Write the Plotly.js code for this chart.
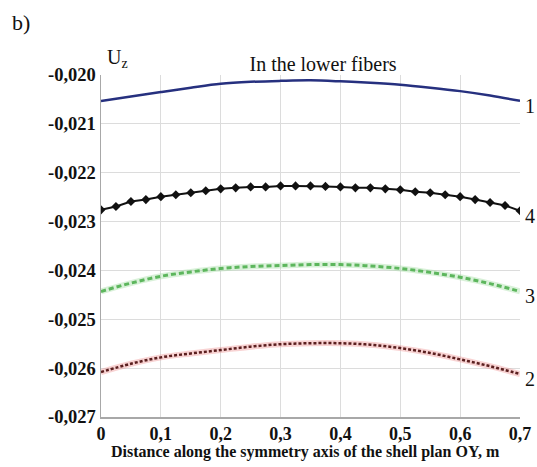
<!DOCTYPE html>
<html>
<head>
<meta charset="utf-8">
<script src="https://cdn.plot.ly/plotly-3.0.1.min.js"></script>
<style>html,body{margin:0;padding:0;background:#fff;}#chart{width:537px;height:467px;}</style>
</head>
<body>
<div id="chart"></div>
<script>
// Data
const xCoarse = [0,0.05,0.1,0.15,0.2,0.25,0.3,0.35,0.4,0.45,0.5,0.55,0.6,0.65,0.7];
const curve1 = [-0.02053,-0.02044,-0.02035,-0.02026,-0.02018,-0.02014,-0.02012,-0.02011,-0.02013,-0.02016,-0.02020,-0.02026,-0.02033,-0.02042,-0.02053];
const curve3 = [-0.02443,-0.02426,-0.02412,-0.02403,-0.02396,-0.02392,-0.02390,-0.02388,-0.02388,-0.02391,-0.02396,-0.02404,-0.02414,-0.02427,-0.02443];
const curve2 = [-0.02608,-0.02591,-0.02578,-0.02570,-0.02563,-0.02556,-0.02551,-0.02549,-0.02549,-0.02552,-0.02559,-0.02569,-0.02582,-0.02596,-0.02612];
const xFine = [0,0.025,0.05,0.075,0.1,0.125,0.15,0.175,0.2,0.225,0.25,0.275,0.3,0.325,0.35,0.375,0.4,0.425,0.45,0.475,0.5,0.525,0.55,0.575,0.6,0.625,0.65,0.675,0.7];
const curve4 = [-0.02276,-0.02269,-0.02259,-0.02255,-0.02249,-0.02245,-0.02241,-0.02237,-0.02233,-0.02231,-0.02229,-0.02229,-0.02227,-0.02227,-0.02227,-0.02228,-0.02229,-0.02231,-0.02231,-0.02233,-0.02235,-0.02239,-0.02241,-0.02245,-0.02249,-0.02255,-0.02261,-0.02267,-0.02278];
const curveLabels = ["1","4","3","2"];
const xTickVals = [0,0.1,0.2,0.3,0.4,0.5,0.6,0.7];
const xTickText = ["0","0,1","0,2","0,3","0,4","0,5","0,6","0,7"];
const yTickVals = [-0.020,-0.021,-0.022,-0.023,-0.024,-0.025,-0.026,-0.027];
const yTickText = ["-0,020","-0,021","-0,022","-0,023","-0,024","-0,025","-0,026","-0,027"];
const xTitle = 'Distance along the symmetry axis of the shell plan OY, m';

const serif = "Liberation Serif";

const traces = [
  {x:xCoarse, y:curve1, mode:'lines', line:{color:'#26307f', width:2.5, shape:'spline'}, hoverinfo:'skip'},
  {x:xFine, y:curve4, mode:'lines+markers', line:{color:'#111', width:2}, marker:{symbol:'diamond', size:7, color:'#111'}, hoverinfo:'skip'},
  {x:xCoarse, y:curve3, mode:'lines', line:{color:'rgba(160,220,160,0.4)', width:6, shape:'spline'}, hoverinfo:'skip'},
  {x:xCoarse, y:curve3, mode:'lines', line:{color:'#5db65d', width:3, dash:'5px,3px', shape:'spline'}, hoverinfo:'skip'},
  {x:xCoarse, y:curve2, mode:'lines', line:{color:'rgba(235,130,130,0.35)', width:6, shape:'spline'}, hoverinfo:'skip'},
  {x:xCoarse, y:curve2, mode:'lines', line:{color:'#5a1f1f', width:2.5, dash:'3px,2px', shape:'spline'}, hoverinfo:'skip'}
];

const ends = [curve1[curve1.length-1], curve4[curve4.length-1], curve3[curve3.length-1], curve2[curve2.length-1]];
const annotations = curveLabels.map((t,i)=>({
  x:0.7, y:ends[i], xref:'x', yref:'y', text:t, showarrow:false,
  xanchor:'left', yanchor:'middle', xshift:3, yshift:-5,
  font:{family:serif, size:20, color:'#111'}
}));
annotations.push({x:-0.217, y:1.196, xref:'paper', yref:'paper', xanchor:'left', yanchor:'top',
  text:'b)', showarrow:false, font:{family:serif, size:22, color:'#111'}});
annotations.push({x:0, y:1, xref:'paper', yref:'paper', xanchor:'left', yanchor:'bottom', yshift:2, xshift:4,
  text:'U<sub>z</sub>', showarrow:false, font:{family:serif, size:20, color:'#111'}});
annotations.push({x:0.489, y:0, xref:'paper', yref:'paper', xanchor:'center', yanchor:'top', yshift:-24,
  text:xTitle, showarrow:false, font:{family:serif, size:16, weight:'bold', color:'#111'}});

const layout = {
  width:537, height:467,
  margin:{l:101, r:17, t:75, b:50},
  paper_bgcolor:'#fff', plot_bgcolor:'#fff',
  showlegend:false,
  title:{text:'In the lower fibers', x:0.53, xanchor:'center', xref:'paper', y:1, yref:'paper', yanchor:'bottom', pad:{b:4},
    font:{family:serif, size:20, color:'#111'}},
  xaxis:{range:[0,0.7], tickvals:xTickVals, ticktext:xTickText, showgrid:true, gridcolor:'#dcdcdc', gridwidth:1,
    zeroline:false, showline:true, linecolor:'#a8a8a8', linewidth:1.5, ticks:'', ticklen:0, ticklabelstandoff:0,
    tickfont:{family:serif, size:18, weight:'bold', color:'#111'}},
  yaxis:{range:[-0.027,-0.020], tickvals:yTickVals, ticktext:yTickText, showgrid:true, gridcolor:'#dcdcdc', gridwidth:1,
    zeroline:false, showline:true, linecolor:'#a8a8a8', linewidth:1.5, ticks:'', ticklen:0,
    tickfont:{family:serif, size:18.5, weight:'bold', color:'#111'}},
  annotations: annotations
};

Plotly.newPlot('chart', traces, layout, {staticPlot:true, displayModeBar:false});
</script>
</body>
</html>
